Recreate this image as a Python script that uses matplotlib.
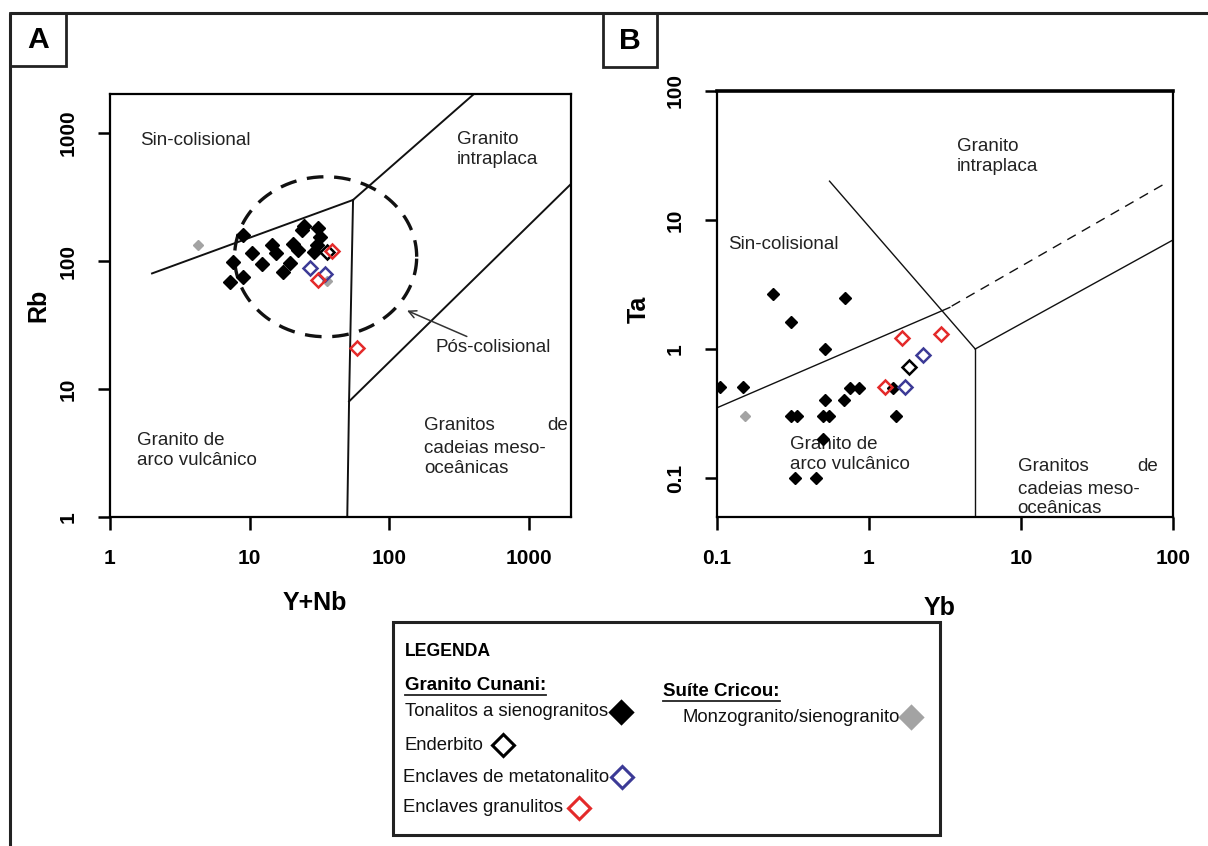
import numpy as np
import matplotlib.pyplot as plt
from matplotlib import font_manager
from matplotlib.patches import Rectangle

# ---------------- data: diagram A (Rb vs Y+Nb)
a_ton_x = [7.2, 7.6, 9.0, 9.0, 10.4, 12.2, 14.4, 15.5, 17.3, 19.5, 20.6, 22.3, 23.6, 24.3, 31.0, 31.9, 30.2, 28.9]
a_ton_y = [69, 99, 160, 75, 115, 95, 133, 115, 82, 96, 137, 122, 175, 188, 180, 155, 133, 118]
a_end_x = [35.7]
a_end_y = [118]
a_met_x = [27.1, 34.7]
a_met_y = [88, 79]
a_gra_x = [38.7, 31.0, 58.8]
a_gra_y = [120, 71, 20.9]
a_cri_x = [4.3, 35.7]
a_cri_y = [133, 70]

# field boundaries A (Pearce et al. 1984)
a_bounds = [([2, 55], [80, 300]),
            ([55, 400], [300, 2000]),
            ([55, 51.5, 50], [300, 8, 1]),
            ([51.5, 2000], [8, 400])]
a_post_center = (35, 108)      # post-collisional field, log-space ellipse
a_post_radius = (0.652, 0.625)

# ---------------- data: diagram B (Ta vs Yb)
b_ton_x = [0.232, 0.695, 0.305, 0.514, 0.105, 0.148, 0.75, 0.86, 1.43, 0.51, 0.68,
           0.305, 0.334, 0.495, 0.548, 1.51, 0.495, 0.326, 0.447]
b_ton_y = [2.67, 2.47, 1.61, 1.0, 0.51, 0.51, 0.5, 0.5, 0.5, 0.40, 0.40,
           0.30, 0.30, 0.30, 0.30, 0.30, 0.20, 0.1, 0.1]
b_end_x = [1.84]
b_end_y = [0.72]
b_met_x = [2.28, 1.73]
b_met_y = [0.90, 0.51]
b_gra_x = [1.64, 2.97, 1.27]
b_gra_y = [1.21, 1.31, 0.51]
b_cri_x = [0.153]
b_cri_y = [0.30]

b_bounds = [([0.1, 3.4], [0.35, 2.1]),
            ([0.55, 3, 5], [20, 2, 1]),
            ([5, 5], [1, 0.05]),
            ([5, 100], [1, 7])]
b_dashed = ([3.5, 93], [2.15, 19.8])

RED = '#e42a2a'
BLUE = '#3c3a96'
GRAY = '#a3a3a3'

names = {f.name for f in font_manager.fontManager.ttflist}
MAIN = 'Liberation Sans' if 'Liberation Sans' in names else 'DejaVu Sans'
if 'Liberation Sans Narrow' in names:
    NARROW, nscale = 'Liberation Sans Narrow', 1.0
else:
    NARROW, nscale = MAIN, 0.82
plt.rcParams['font.family'] = [MAIN, 'DejaVu Sans']

fig = plt.figure(figsize=(12.08, 8.46), dpi=100)

# overlay for frame / labels / legend, in pixel units
ov = fig.add_axes([0, 0, 1, 1])
ov.set_xlim(0, 1208)
ov.set_ylim(846, 0)
ov.axis('off')

axA = fig.add_axes([110 / 1208, 1 - 517 / 846, 461 / 1208, 422.5 / 846])
axB = fig.add_axes([717 / 1208, 1 - 516.8 / 846, 456 / 1208, 425.8 / 846])


def style_axes(ax, xt, yt, xl, yl):
    ax.set_xscale('log')
    ax.set_yscale('log')
    ax.set_xticks(xt)
    ax.set_xticklabels(xl)
    ax.set_yticks(yt)
    ax.set_yticklabels(yl, rotation=90, va='center')
    ax.minorticks_off()
    ax.tick_params(direction='out', length=9, width=1.8, labelsize=15, pad=14)
    for lab in ax.get_xticklabels() + ax.get_yticklabels():
        lab.set_fontweight('bold')
    for s in ax.spines.values():
        s.set_linewidth(1.6)


def region(ax, x, y, s, ha='left'):
    ax.text(x, y, s, fontsize=13.5, color='#222222', ha=ha, va='center',
            linespacing=1.2)


def points(ax, tx, ty, ex, ey, mx, my, gx, gy, cx, cy, ms, mo):
    ax.plot(tx, ty, 'D', ms=ms, color='black', mec='black', zorder=5)
    ax.plot(cx, cy, 'D', ms=ms * 0.8, color=GRAY, mec=GRAY, zorder=5)
    ax.plot(ex, ey, 'D', ms=mo, mfc='none', mec='black', mew=1.8, zorder=6)
    ax.plot(mx, my, 'D', ms=mo, mfc='none', mec=BLUE, mew=1.8, zorder=6)
    ax.plot(gx, gy, 'D', ms=mo, mfc='none', mec=RED, mew=1.8, zorder=6)


# ---------------- A
for xs, ys in a_bounds:
    axA.plot(xs, ys, color='#111111', lw=1.4)
t = np.linspace(0, 2 * np.pi, 300)
cx = 10 ** (np.log10(a_post_center[0]) + a_post_radius[0] * np.cos(t))
cy = 10 ** (np.log10(a_post_center[1]) + a_post_radius[1] * np.sin(t))
axA.plot(cx, cy, color='#111111', lw=2.4, ls=(0, (5, 3.2)))
points(axA, a_ton_x, a_ton_y, a_end_x, a_end_y, a_met_x, a_met_y,
       a_gra_x, a_gra_y, a_cri_x, a_cri_y, 6.7, 7.0)
axA.set_xlim(1, 2000)
axA.set_ylim(1, 2000)
style_axes(axA, [1, 10, 100, 1000], [1, 10, 100, 1000],
           ['1', '10', '100', '1000'], ['1', '10', '100', '1000'])
region(axA, 1.64, 880, 'Sin-colisional')
region(axA, 306, 740, 'Granito\nintraplaca')
region(axA, 1.56, 3.3, 'Granito de\narco vulcânico')
region(axA, 177, 5.2, 'Granitos')
region(axA, 1900, 5.2, 'de', ha='right')
region(axA, 177, 2.85, 'cadeias meso-\noceânicas')
axA.annotate('Pós-colisional', xy=(134, 41), xytext=(213, 21),
             fontsize=13.5, color='#222222', va='center',
             arrowprops=dict(arrowstyle='->', color='#333333', lw=1.1,
                             shrinkA=0, shrinkB=0),
             annotation_clip=False)
axA.set_xlabel('Y+Nb', fontsize=18, fontweight='bold')
axA.set_ylabel('Rb', fontsize=18, fontweight='bold')
axA.xaxis.set_label_coords(0.445, -0.175)
axA.yaxis.set_label_coords(-0.13, 0.5)

# ---------------- B
for xs, ys in b_bounds:
    axB.plot(xs, ys, color='#111111', lw=1.0)
axB.plot(b_dashed[0], b_dashed[1], color='#111111', lw=1.0, ls=(0, (7, 5)))
points(axB, b_ton_x, b_ton_y, b_end_x, b_end_y, b_met_x, b_met_y,
       b_gra_x, b_gra_y, b_cri_x, b_cri_y, 6.4, 6.8)
axB.set_xlim(0.1, 100)
axB.set_ylim(0.05, 100)
style_axes(axB, [0.1, 1, 10, 100], [0.1, 1, 10, 100],
           ['0.1', '1', '10', '100'], ['0.1', '1', '10', '100'])
axB.spines['top'].set_linewidth(2.6)
region(axB, 3.79, 31, 'Granito\nintraplaca')
region(axB, 0.118, 6.5, 'Sin-colisional')
region(axB, 0.302, 0.152, 'Granito de\narco vulcânico')
region(axB, 9.5, 0.122, 'Granitos')
region(axB, 80, 0.122, 'de', ha='right')
region(axB, 9.5, 0.0687, 'cadeias meso-\noceânicas')
axB.set_xlabel('Yb', fontsize=18, fontweight='bold')
axB.set_ylabel('Ta', fontsize=18, fontweight='bold')
axB.xaxis.set_label_coords(0.489, -0.185)
axB.yaxis.set_label_coords(-0.145, 0.486)

# ---------------- frame and panel tags
ov.plot([10, 1208], [13, 13], color='#222222', lw=2.2, solid_capstyle='butt')
ov.plot([10, 10], [13, 846], color='#222222', lw=2.2, solid_capstyle='butt')
for x0, w, h, tag in [(10, 56, 53, 'A'), (603, 54, 54, 'B')]:
    ov.add_patch(Rectangle((x0, 13), w, h, fill=False, ec='#222222', lw=2.0))
    ov.text(x0 + w / 2, 13 + h / 2 + 1, tag, family=NARROW, fontsize=24 * nscale + 2,
            fontweight='bold', ha='center', va='center')

# ---------------- legend box
ov.add_patch(Rectangle((393, 622), 547, 213, fill=False, ec='#222222', lw=2.2))
fs = 16.3 * nscale
ov.text(405, 652, 'LEGENDA', family=NARROW, fontsize=15.5 * nscale, fontweight='bold',
        va='center')
heads = [(405, 686, 'Granito Cunani:'), (663, 692, 'Suíte Cricou:')]
items = [(405, 712, 'Tonalitos a sienogranitos', 'black', 'black', 2),
         (405, 745, 'Enderbito', 'none', 'black', 8),
         (403, 777, 'Enclaves de metatonalito', 'none', BLUE, 2),
         (403, 808, 'Enclaves granulitos', 'none', RED, 5),
         (682, 717, 'Monzogranito/sienogranito', GRAY, GRAY, 1)]

fig.canvas.draw()
r = fig.canvas.get_renderer()
inv = ov.transData.inverted()
for x, y, s in heads:
    tx = ov.text(x, y, s, family=NARROW, fontsize=16.5 * nscale, fontweight='bold',
                 va='center')
    bb = tx.get_window_extent(r)
    (x0, y0), (x1, y1) = inv.transform([[bb.x0, bb.y0], [bb.x1, bb.y1]])
    ov.plot([x0, x1], [y0 + 1, y0 + 1], color='#222222', lw=1.3)
for x, y, s, fc, ec, gap in items:
    tx = ov.text(x, y, s, family=NARROW, fontsize=fs, color='#111111', va='center')
    bb = tx.get_window_extent(r)
    x1 = inv.transform([[bb.x1, bb.y0]])[0][0]
    ov.plot([x1 + gap + 11], [y], 'D', ms=11, mfc=fc, mec=ec, mew=2.2)

fig.savefig('out.png', dpi=100)
